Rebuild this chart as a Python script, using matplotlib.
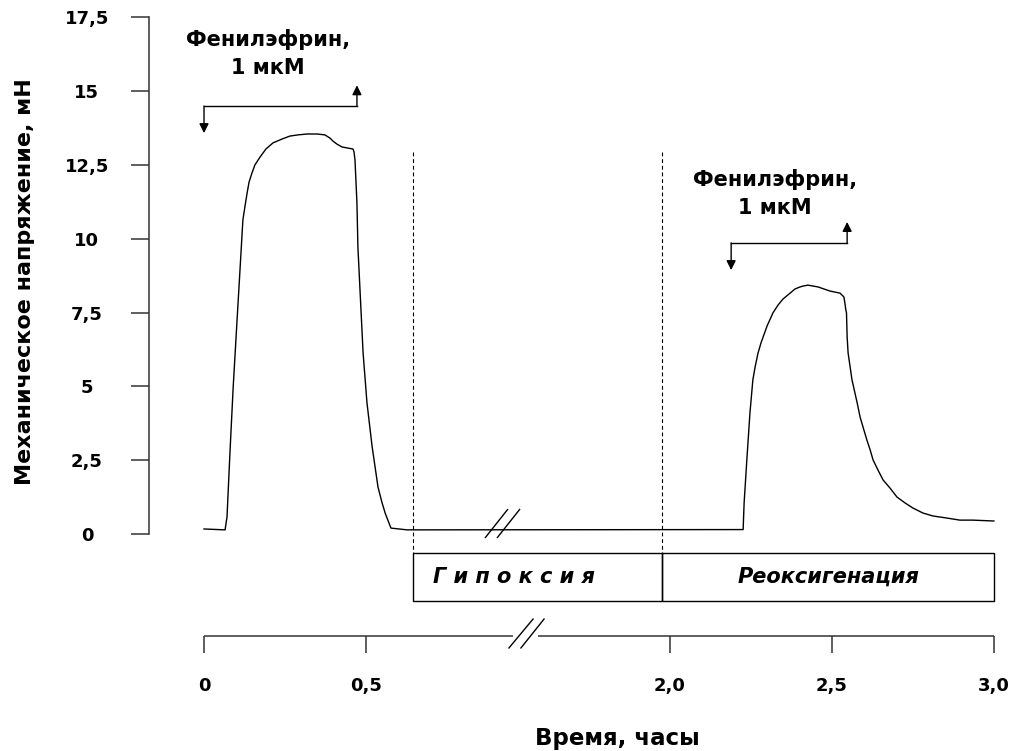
import numpy as np
import matplotlib
matplotlib.use("Agg")
import matplotlib.pyplot as plt
from matplotlib.patches import Rectangle
from matplotlib.path import Path

plt.rcParams['font.family'] = ['DejaVu Sans']

# ---------------- data ----------------
# time in hours, tension in mN
time_h = [0.000, 0.065, 0.071, 0.080, 0.090, 0.102, 0.111, 0.120, 0.127, 0.133,
          0.139, 0.148, 0.157, 0.173, 0.191, 0.213, 0.241, 0.265, 0.290, 0.318,
          0.349, 0.373, 0.389, 0.398, 0.410, 0.426, 0.441, 0.460, 0.463, 0.466,
          0.472, 0.475, 0.481, 0.491, 0.503, 0.519, 0.537, 0.549, 0.559,
          0.577, 0.627,
          2.226, 2.229, 2.238, 2.247, 2.256, 2.263, 2.272, 2.281, 2.300,
          2.318, 2.334, 2.349, 2.371, 2.386, 2.402, 2.411, 2.426, 2.457,
          2.494, 2.525, 2.537, 2.540, 2.543, 2.545, 2.547, 2.550, 2.562,
          2.578, 2.587, 2.608, 2.618, 2.627, 2.642, 2.658, 2.679,
          2.701, 2.726, 2.750, 2.781, 2.812, 2.855, 2.895, 2.935, 3.000]
tension_mN = [0.17, 0.14, 0.58, 2.74, 4.97, 7.25, 8.94, 10.64, 11.14, 11.55,
              11.92, 12.23, 12.50, 12.77, 13.04, 13.25, 13.38, 13.48, 13.52, 13.55,
              13.55, 13.52, 13.41, 13.31, 13.21, 13.11, 13.08, 13.04, 12.94, 12.67,
              11.21, 9.72, 8.37, 6.13, 4.44, 2.95, 1.59, 1.08, 0.71,
              0.20, 0.14,
              0.15, 1.05, 2.61, 4.10, 5.22, 5.66, 6.13, 6.47, 7.05,
              7.49, 7.76, 7.96, 8.16, 8.30, 8.37, 8.40, 8.43, 8.37,
              8.23, 8.16, 8.03, 7.83, 7.59, 7.49, 6.67, 6.13, 5.22,
              4.44, 3.96, 3.18, 2.85, 2.51, 2.17, 1.83, 1.56,
              1.25, 1.05, 0.88, 0.71, 0.61, 0.54, 0.47, 0.47, 0.44]

y_ticks = [0, 2.5, 5, 7.5, 10, 12.5, 15, 17.5]
y_ticklabels = ["0", "2,5", "5", "7,5", "10", "12,5", "15", "17,5"]
x_ticks = [0, 0.5, 2.0, 2.5, 3.0]
x_ticklabels = ["0", "0,5", "2,0", "2,5", "3,0"]

# phenylephrine applications: start, end (hours), bracket level, tip levels
pe_start = [0.0, 2.189]
pe_end = [0.472, 2.547]
pe_level = [14.5, 9.86]
pe_down_tip = [13.58, 8.94]
pe_up_tip = [15.2, 10.57]
pe_text_x = [0.198, 2.324]
pe_text_y = [16.27, 11.55]

# phases
hypoxia_start = 0.645
reox_start = 1.976
end_time = 3.0
phase_line_top = 12.94

# axis break (hours)
BREAK = (0.954, 1.593)
BREAK_POS_END = 1.031

# ---------------- scale with a break ----------------
knots_t = [-10.0, BREAK[0], BREAK[1], 10.0]
knots_p = [-10.0, BREAK[0], BREAK_POS_END, 10.0 - (BREAK[1] - BREAK_POS_END)]


def fwd(t):
    return np.interp(np.asarray(t, float), knots_t, knots_p)


def inv(p):
    return np.interp(np.asarray(p, float), knots_p, knots_t)


W, H = 1010, 751
fig = plt.figure(figsize=(W / 100, H / 100), dpi=100)
XLIM = (-0.1698, 3.0188)
AX_COLOR = '#333333'

ax = fig.add_axes([149 / W, 1 - 534 / H, 851 / W, 516.6 / H])
ax.set_xscale('function', functions=(fwd, inv))
ax.set_xlim(*XLIM)
ax.set_ylim(0, 17.5)
for s in ['top', 'right', 'bottom']:
    ax.spines[s].set_visible(False)
ax.spines['left'].set_color(AX_COLOR)
ax.spines['left'].set_linewidth(1.1)
ax.set_xticks([])
ax.set_yticks(y_ticks)
ax.set_yticklabels(y_ticklabels)
ax.tick_params(axis='y', direction='out', length=13, width=1.1, color=AX_COLOR,
               pad=31.7, labelsize=13)
for lab in ax.get_yticklabels():
    lab.set_horizontalalignment('center')
    lab.set_fontweight('bold')
ax.patch.set_visible(False)

# trace
ax.plot(time_h, tension_mN, color='black', lw=1.0, solid_joinstyle='round', clip_on=False)

# break mark on the trace
mk1 = Path([(-17.5, -14.5), (5.5, 14.5), (-5.5, -14.5), (17.5, 14.5)],
           [Path.MOVETO, Path.LINETO, Path.MOVETO, Path.LINETO])
ax.plot([0.921], [0.356], marker=mk1, ms=25.2, mec='black', mfc='none', mew=1.0,
        ls='none', clip_on=False)

# phase dashed lines
for tx in (hypoxia_start, reox_start):
    ax.plot([tx, tx], [phase_line_top, -0.64], color='black', lw=0.8,
            dashes=(3.5, 2.5), clip_on=False)

# phase boxes
box_y0, box_y1 = -2.27, -0.64
for a, b in ((hypoxia_start, reox_start), (reox_start, end_time)):
    ax.add_patch(Rectangle((a, box_y0), b - a, box_y1 - box_y0, fill=False,
                           ec='black', lw=1.0, clip_on=False))
ymid = (box_y0 + box_y1) / 2
ax.annotate("Г и п о к с и я", xy=(hypoxia_start, ymid), xytext=(14.4, 0),
            textcoords='offset points', ha='left', va='center', fontsize=15,
            fontweight='bold', style='italic', annotation_clip=False)
xc = float(inv((fwd(reox_start) + fwd(end_time)) / 2))
ax.text(xc, ymid, "Реоксигенация", ha='center', va='center', fontsize=15,
        fontweight='bold', style='italic', clip_on=False)

# phenylephrine brackets
for i in range(2):
    ax.plot([pe_start[i], pe_end[i]], [pe_level[i], pe_level[i]], color='black', lw=1.0,
            clip_on=False)
    ax.annotate('', xy=(pe_start[i], pe_down_tip[i]), xytext=(pe_start[i], pe_level[i]),
                arrowprops=dict(arrowstyle='-|>', mutation_scale=14, lw=1.0, color='black',
                                shrinkA=0, shrinkB=0), annotation_clip=False)
    ax.annotate('', xy=(pe_end[i], pe_up_tip[i]), xytext=(pe_end[i], pe_level[i]),
                arrowprops=dict(arrowstyle='-|>', mutation_scale=14, lw=1.0, color='black',
                                shrinkA=0, shrinkB=0), annotation_clip=False)
    ax.text(pe_text_x[i], pe_text_y[i], "Фенилэфрин,\n1 мкМ", ha='center', va='center',
            multialignment='center', linespacing=1.5, fontsize=15, fontweight='bold',
            clip_on=False)

# ---------------- time axis ----------------
ax2 = fig.add_axes([149 / W, 1 - 636 / H, 851 / W, 30 / H])
ax2.set_xscale('function', functions=(fwd, inv))
ax2.set_xlim(*XLIM)
ax2.set_ylim(0, 1)
for s in ax2.spines.values():
    s.set_visible(False)
ax2.patch.set_visible(False)
ax2.set_yticks([])
ax2.set_xticks(x_ticks)
ax2.set_xticklabels(x_ticklabels)
ax2.tick_params(axis='x', direction='out', length=12.2, width=1.1, color=AX_COLOR,
                pad=17, labelsize=13)
for lab in ax2.get_xticklabels():
    lab.set_fontweight('bold')
ax2.plot([0, BREAK[0]], [0, 0], color=AX_COLOR, lw=1.1, clip_on=False,
         solid_capstyle='butt')
ax2.plot([BREAK[1], end_time], [0, 0], color=AX_COLOR, lw=1.1, clip_on=False,
         solid_capstyle='butt')
mk2 = Path([(-18, -15), (7, 15), (-6, -15), (18, 15)],
           [Path.MOVETO, Path.LINETO, Path.MOVETO, Path.LINETO])
brk_center = float(inv((BREAK[0] + BREAK_POS_END) / 2))
ax2.plot([brk_center], [0.1], marker=mk2, ms=25.9, mec='black', mfc='none', mew=1.0,
         ls='none', clip_on=False)

# axis titles
fig.text(25 / W, 1 - 282 / H, "Механическое напряжение, мН", rotation=90,
         ha='center', va='center', fontsize=16, fontweight='bold')
fig.text(617 / W, 1 - 738 / H, "Время, часы", ha='center', va='center',
         fontsize=16.5, fontweight='bold')

fig.savefig("out.png", dpi=100)
